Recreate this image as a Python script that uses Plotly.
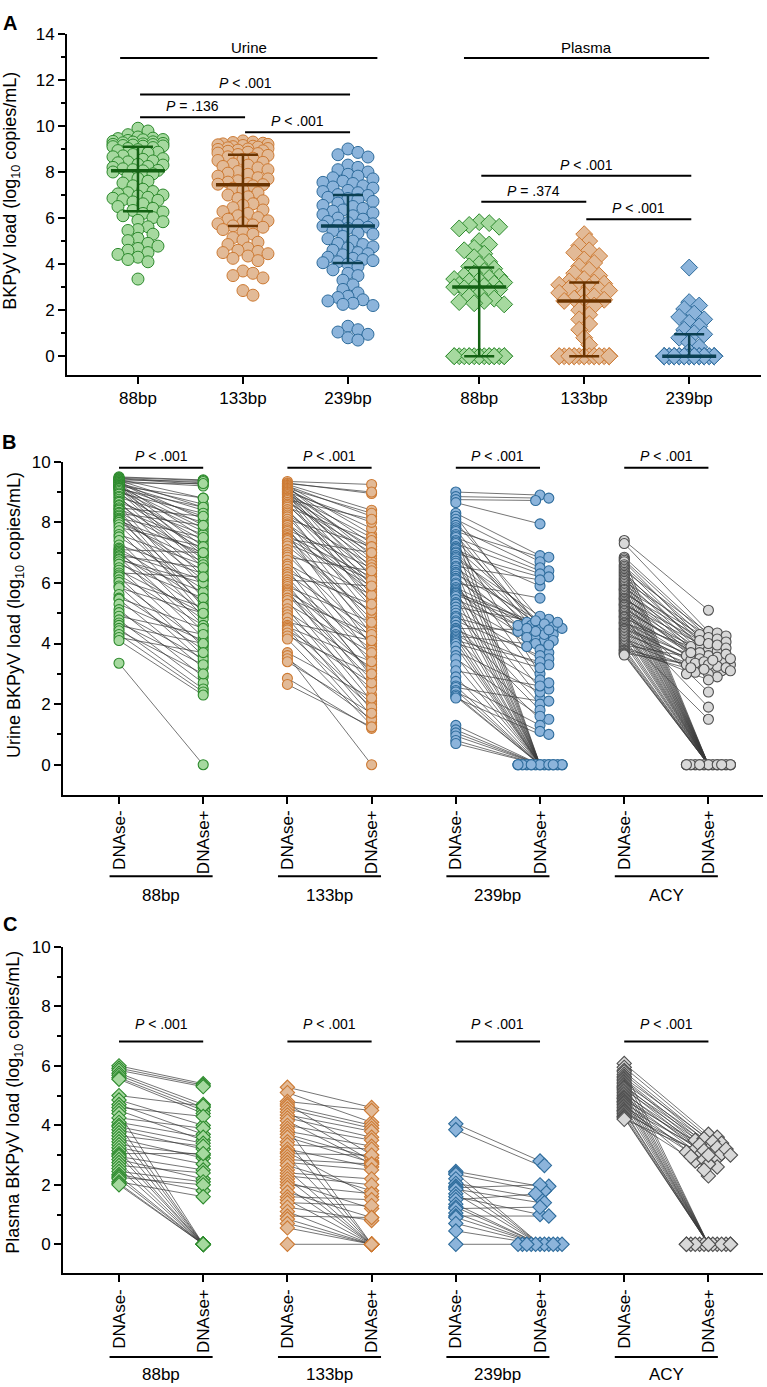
import plotly.graph_objects as go

W, H = 767, 1387

# ---------------- DATA (log10 copies/mL) ----------------
# Panel A urine groups
urine_88 = [9.9, 9.78, 9.62, 9.52, 9.47, 9.45, 9.41, 9.4, 9.37, 9.33, 9.31, 9.3, 9.27, 9.24, 9.22, 9.2, 9.19, 9.17, 9.15, 9.13, 9.12, 9.1,
            9.06, 9.02, 8.97, 8.93, 8.86, 8.82, 8.76, 8.7, 8.66, 8.58, 8.55, 8.48, 8.44, 8.4, 8.33, 8.3, 8.24, 8.2, 8.14, 8.1, 8.07, 8.05,
            8.0, 7.92, 7.83, 7.72, 7.6, 7.52, 7.4, 7.25, 7.15, 7.1, 7.05, 7.0, 6.96, 6.9, 6.86, 6.8, 6.77, 6.7, 6.62, 6.5, 6.42, 6.33,
            6.26, 6.2, 6.1, 6.02, 5.9, 5.84, 5.62, 5.5, 5.46, 5.3, 5.12, 5.02, 4.9, 4.78, 4.68, 4.6, 4.5, 4.42, 4.3, 4.2, 4.1, 3.35]

# Urine, paired DNAse- / DNAse+ (Panel B)
urine_88_neg = [9.5, 9.48, 9.46, 9.44, 9.42, 9.4, 9.38, 9.36, 9.34, 9.32, 9.3, 9.28, 9.26, 9.24, 9.22, 9.2, 9.19, 9.17, 9.15, 9.13, 9.12, 9.1,
                9.06, 9.02, 8.97, 8.93, 8.86, 8.82, 8.76, 8.7, 8.66, 8.58, 8.55, 8.48, 8.44, 8.4, 8.33, 8.3, 8.24, 8.2, 8.14, 8.1, 8.07, 8.05,
                8.0, 7.92, 7.83, 7.72, 7.6, 7.52, 7.4, 7.25, 7.15, 7.1, 7.05, 7.0, 6.96, 6.9, 6.86, 6.8, 6.77, 6.7, 6.62, 6.5, 6.42, 6.33,
                6.26, 6.2, 6.1, 6.02, 5.9, 5.84, 5.62, 5.5, 5.46, 5.3, 5.12, 5.02, 4.9, 4.78, 4.68, 4.6, 4.5, 4.42, 4.3, 4.2, 4.1, 3.35]
urine_88_pos = [9.4, 9.38, 9.3, 9.25, 8.8, 9.35, 8.5, 9.2, 8.1, 7.9, 9.28, 8.6, 7.5, 8.4, 7.2, 8.8, 6.9, 7.8, 8.2, 7.0, 6.6, 8.5,
                7.7, 6.5, 8.3, 7.4, 6.2, 8.0, 7.1, 5.9, 7.6, 6.8, 5.5, 8.2, 7.3, 5.2, 6.9, 7.9, 6.1, 5.0, 7.5, 6.4, 5.6, 7.0,
                6.7, 5.3, 7.2, 4.9, 6.6, 5.8, 4.6, 6.3, 5.4, 7.0, 4.4, 6.1, 5.1, 6.5, 4.2, 5.7, 6.0, 4.8, 5.5, 3.9, 5.0, 6.2,
                4.6, 3.6, 5.2, 4.0, 3.4, 5.0, 3.8, 4.5, 3.2, 4.1, 2.9, 3.5, 4.3, 2.7, 3.3, 4.0, 2.5, 3.0, 2.4, 3.7, 2.3, 0.0]

urine_133_neg = [9.35, 9.3, 9.28, 9.25, 9.22, 9.2, 9.18, 9.15, 9.12, 9.1, 9.08, 9.05, 9.02, 9.0, 8.98, 8.95, 8.92, 8.9, 8.86, 8.82, 8.8, 8.76,
                 8.72, 8.66, 8.6, 8.55, 8.5, 8.42, 8.35, 8.3, 8.24, 8.18, 8.1, 8.02, 7.95, 7.9, 7.82, 7.75, 7.7, 7.62, 7.56, 7.5, 7.47, 7.45,
                 7.4, 7.3, 7.22, 7.1, 7.0, 6.92, 6.85, 6.75, 6.62, 6.55, 6.45, 6.35, 6.28, 6.2, 6.1, 6.02, 5.95, 5.88, 5.8, 5.75, 5.7, 5.66,
                 5.6, 5.5, 5.42, 5.3, 5.15, 5.05, 4.95, 4.85, 4.7, 4.6, 4.55, 4.5, 4.45, 4.35, 4.25, 4.15, 3.7, 3.6, 3.5, 3.4, 2.85, 2.65]
urine_133_pos = [9.25, 8.95, 9.0, 8.4, 7.6, 8.2, 6.9, 7.3, 8.3, 6.5, 7.8, 6.2, 7.1, 8.0, 5.9, 6.8, 7.5, 5.6, 6.4, 7.2, 5.3, 8.1,
                 6.7, 7.0, 5.8, 6.3, 7.4, 5.5, 6.1, 4.9, 6.6, 5.2, 7.2, 4.6, 6.0, 5.7, 4.3, 6.5, 5.4, 3.9, 6.2, 4.8, 5.9, 7.0,
                 4.5, 6.1, 5.0, 3.6, 5.6, 4.2, 6.4, 3.3, 5.1, 4.0, 2.9, 5.3, 4.4, 3.0, 5.9, 3.8, 2.6, 4.7, 3.5, 2.3, 4.1, 3.1,
                 2.8, 4.3, 2.1, 3.7, 1.8, 3.2, 2.5, 1.6, 4.1, 2.0, 3.4, 1.4, 2.7, 1.9, 3.0, 1.3, 2.2, 0.0, 1.5, 1.7, 1.2, 1.25]

urine_239_neg = [9.0, 8.85, 8.75, 8.65, 8.3, 8.2, 8.1, 8.0, 7.9, 7.82, 7.75, 7.7, 7.6, 7.55, 7.5, 7.4, 7.35, 7.3, 7.2, 7.15, 7.1, 7.02,
                 6.98, 6.9, 6.85, 6.8, 6.72, 6.65, 6.55, 6.5, 6.42, 6.35, 6.3, 6.22, 6.15, 6.1, 6.0, 5.95, 5.85, 5.8, 5.75, 5.7, 5.67, 5.65,
                 5.6, 5.55, 5.45, 5.35, 5.3, 5.2, 5.1, 5.0, 4.9, 4.85, 4.75, 4.7, 4.6, 4.5, 4.45, 4.4, 4.3, 4.25, 4.2, 4.15, 4.1, 4.06,
                 4.0, 3.9, 3.75, 3.6, 3.5, 3.3, 3.1, 2.9, 2.75, 2.6, 2.55, 2.45, 2.4, 2.3, 2.25, 2.2, 1.3, 1.15, 1.05, 0.95, 0.8, 0.7]
urine_239_pos = [8.9, 8.8, 8.72, 7.95, 6.9, 4.5, 6.7, 4.8, 0.0, 6.5, 4.4, 6.85, 4.2, 0.0, 6.4, 4.6, 3.0, 6.3, 0.0, 4.7, 5.9, 4.1,
                 6.2, 4.5, 0.0, 4.9, 4.3, 2.8, 6.1, 4.6, 0.0, 4.0, 4.75, 3.7, 0.0, 4.4, 5.5, 2.5, 4.5, 0.0, 4.2, 3.9, 4.65, 2.2,
                 4.55, 0.0, 4.3, 3.8, 0.0, 4.7, 3.5, 2.0, 0.0, 4.1, 3.6, 0.0, 1.8, 4.45, 3.3, 0.0, 2.7, 3.95, 0.0, 1.5, 3.4, 0.0,
                 3.2, 0.0, 2.4, 0.0, 1.6, 0.0, 2.6, 0.0, 1.3, 0.0, 2.1, 0.0, 1.1, 0.0, 0.0, 1.0, 0.0, 0.0, 0.0, 0.0, 0.0, 0.0]

urine_acy_neg = [7.4, 7.3,
                 6.85, 6.8, 6.75, 6.7, 6.6, 6.55, 6.5, 6.45, 6.4, 6.35,
                 6.3, 6.25, 6.2, 6.15, 6.1, 6.05, 6.0, 5.95, 5.9, 5.85,
                 5.8, 5.78, 5.75, 5.7, 5.65, 5.6, 5.55, 5.5, 5.48, 5.45,
                 5.4, 5.35, 5.3, 5.28, 5.25, 5.2, 5.15, 5.1, 5.08, 5.05,
                 5.0, 4.95, 4.9, 4.88, 4.85, 4.8, 4.75, 4.7, 4.68, 4.65,
                 4.6, 4.55, 4.5, 4.48, 4.45, 4.4, 4.35, 4.3, 4.25, 4.2,
                 4.15, 4.1, 4.05, 4.0, 3.95, 3.9, 3.85, 3.8, 3.78, 3.75,
                 3.7, 3.68, 3.65, 3.62]
urine_acy_pos = [5.1, 4.4,
                 4.3, 0.0, 4.2, 3.9, 0.0, 4.1, 3.8, 0.0, 4.35, 3.6,
                 0.0, 4.0, 3.7, 0.0, 3.5, 4.25, 0.0, 3.9, 3.4, 0.0,
                 4.15, 3.3, 0.0, 3.75, 4.05, 0.0, 3.2, 3.6, 0.0, 3.95,
                 3.1, 0.0, 3.55, 3.85, 0.0, 3.3, 3.45, 0.0, 2.4, 3.65,
                 0.0, 3.35, 3.15, 0.0, 3.5, 1.9, 0.0, 3.25, 3.7, 0.0,
                 3.05, 0.0, 3.4, 3.2, 0.0, 2.9, 0.0, 3.3, 1.5, 0.0,
                 3.1, 0.0, 3.0, 0.0, 3.45, 2.8, 0.0, 3.15, 0.0, 3.0,
                 0.0, 3.2, 0.0, 0.0]

# Plasma, Panel A (all samples)
plasma_88 = [5.82, 5.78, 5.7, 5.62, 5.55, 5.0, 4.85, 4.7, 4.6, 4.45, 4.3, 4.1, 4.0, 3.9, 3.8, 3.7, 3.6, 3.5, 3.45, 3.4,
             3.35, 3.3, 3.25, 3.2, 3.15, 3.1, 3.05, 3.0, 3.0, 2.95, 2.9, 2.8, 2.7, 2.6, 2.5, 2.4, 2.35, 2.3, 2.25,
             0.0, 0.0, 0.0, 0.0, 0.0, 0.0, 0.0, 0.0, 0.0, 0.0, 0.0, 0.0, 0.0, 0.0, 0.0, 0.0, 0.0]
plasma_133 = [5.3, 5.0, 4.8, 4.6, 4.5, 4.35, 4.2, 4.05, 3.9, 3.75, 3.6, 3.5, 3.35, 3.25, 3.2, 3.15, 3.1, 3.05, 3.0,
              2.95, 2.9, 2.85, 2.75, 2.7, 2.6, 2.5, 2.45, 2.4, 2.35, 2.2, 2.0, 1.8, 1.6, 1.4, 1.15, 0.8, 0.5,
              0.0, 0.0, 0.0, 0.0, 0.0, 0.0, 0.0, 0.0, 0.0, 0.0, 0.0, 0.0, 0.0, 0.0, 0.0, 0.0, 0.0, 0.0, 0.0]
plasma_239 = [3.85, 2.35, 2.2, 2.05, 1.85, 1.7, 1.6, 1.45, 1.3, 1.15, 1.0, 0.95, 0.8, 0.6, 0.4, 0.2,
              0.0, 0.0, 0.0, 0.0, 0.0, 0.0, 0.0, 0.0, 0.0, 0.0, 0.0, 0.0, 0.0, 0.0, 0.0, 0.0, 0.0, 0.0, 0.0,
              0.0, 0.0, 0.0, 0.0, 0.0, 0.0, 0.0, 0.0, 0.0, 0.0, 0.0, 0.0, 0.0, 0.0, 0.0, 0.0, 0.0, 0.0, 0.0]

# Plasma, paired DNAse-/DNAse+ (Panel C)
plasma_88_neg = [6.0, 5.92, 5.85, 5.75, 5.68, 5.6, 5.55, 5.0, 4.85, 4.7, 4.6, 4.5, 4.4, 4.25, 4.1, 4.0, 3.95, 3.85, 3.75, 3.65,
                 3.55, 3.45, 3.35, 3.25, 3.15, 3.05, 3.0, 2.95, 2.85, 2.75, 2.65, 2.55, 2.45, 2.35, 2.3, 2.25, 2.2, 2.1, 2.05, 2.0]
plasma_88_pos = [5.4, 5.35, 5.3, 4.7, 4.6, 4.5, 4.4, 4.65, 4.0, 3.7, 4.3, 3.5, 0.0, 3.9, 3.6, 0.0, 3.4, 3.2, 0.0, 3.3,
                 2.9, 0.0, 3.0, 2.7, 0.0, 3.05, 0.0, 2.5, 2.2, 0.0, 2.4, 0.0, 2.1, 1.8, 0.0, 2.0, 0.0, 1.6, 0.0, 0.0]
plasma_133_neg = [5.28, 5.1, 4.8, 4.72, 4.65, 4.55, 4.45, 4.35, 4.25, 4.15, 4.0, 3.9, 3.8, 3.7, 3.6, 3.45, 3.35, 3.2, 3.1, 3.05,
                  2.95, 2.85, 2.75, 2.65, 2.5, 2.4, 2.3, 2.2, 2.1, 2.0, 1.9, 1.75, 1.6, 1.5, 1.4, 1.25, 1.1, 0.95, 0.85, 0.7,
                  0.55, 0.0]
plasma_133_pos = [4.6, 4.1, 4.5, 3.0, 4.0, 3.9, 2.8, 3.8, 3.6, 2.7, 3.5, 0.0, 3.3, 2.9, 2.75, 0.0, 3.2, 2.6, 1.6, 3.0,
                  0.0, 2.7, 2.5, 1.8, 0.0, 2.2, 2.0, 0.0, 1.2, 1.7, 0.0, 0.9, 1.5, 0.0, 1.3, 0.8, 0.0, 0.9, 0.0, 0.0,
                  0.0, 0.0]
plasma_239_neg = [4.05, 3.85, 2.45, 2.4, 2.35, 2.2, 2.05, 1.95, 1.9, 1.85, 1.7, 1.6, 1.5, 1.35, 1.25, 1.2, 1.05, 0.95, 0.9, 0.7,
                  0.45, 0.0]
plasma_239_pos = [2.8, 2.65, 1.95, 0.0, 1.8, 0.0, 1.55, 0.0, 2.0, 1.4, 0.0, 1.0, 1.7, 0.0, 0.0, 1.25, 0.0, 0.95, 0.0, 0.0,
                  0.0, 0.0]
plasma_acy_neg = [6.08, 5.95, 5.85, 5.8, 5.72, 5.65, 5.6, 5.55, 5.5, 5.45, 5.4, 5.35, 5.3, 5.28, 5.25, 5.2, 5.15, 5.1, 5.05, 5.0,
                  4.95, 4.92, 4.9, 4.85, 4.8, 4.78, 4.75, 4.7, 4.65, 4.6, 4.55, 4.5, 4.48, 4.45, 4.4, 4.35, 4.3, 4.28, 4.25, 4.2]
plasma_acy_pos = [3.7, 3.6, 0.0, 3.5, 3.4, 0.0, 3.55, 3.3, 3.2, 0.0, 3.45, 3.1, 0.0, 3.35, 3.0, 3.25, 0.0, 2.9, 3.15, 0.0,
                  3.05, 2.8, 0.0, 3.2, 2.6, 0.0, 3.0, 2.3, 0.0, 3.1, 2.85, 0.0, 2.7, 0.0, 2.95, 0.0, 2.5, 0.0, 0.0, 3.0]

# Panel A: categories and median / interquartile range
a_categories = ["88bp", "133bp", "239bp", "88bp", "133bp", "239bp"]
a_medians = [8.05, 7.45, 5.65, 3.0, 2.4, 0.0]
a_q1 = [6.3, 5.65, 4.05, 0.0, 0.0, 0.0]
a_q3 = [9.1, 8.75, 7.0, 3.85, 3.2, 0.95]

# Significance annotations (panel A): bracket level and text
a_brackets = [  # (from category index, to category index, level, text)
    (0, 2, 12.95, "Urine"),
    (0, 2, 11.37, "<i>P</i> &lt; .001"),
    (0, 1, 10.38, "<i>P</i> = .136"),
    (1, 2, 9.73, "<i>P</i> &lt; .001"),
    (3, 5, 12.95, "Plasma"),
    (3, 5, 7.84, "<i>P</i> &lt; .001"),
    (3, 4, 6.71, "<i>P</i> = .374"),
    (4, 5, 5.95, "<i>P</i> &lt; .001"),
]
pair_groups = ["88bp", "133bp", "239bp", "ACY"]
pair_tick_labels = ["DNAse-", "DNAse+"]
b_p_text = ["<i>P</i> &lt; .001"] * 4
c_p_text = ["<i>P</i> &lt; .001"] * 4
b_bracket_level = 9.8
c_bracket_level = 6.82

# ---------------- STYLE / LAYOUT ----------------
FILL = {"88bp": "#a6d99f", "133bp": "#e2ba97", "239bp": "#8cb4db", "ACY": "#d8d8d8"}
EDGE = {"88bp": "#2d8a2d", "133bp": "#cd7a33", "239bp": "#2e6c9c", "ACY": "#4f4f4f"}
MED = {"88bp": "#136113", "133bp": "#6b3400", "239bp": "#0b4052"}
PAIR_LINE = "#3a3a3a"
FONT = "Arial"

a_pos = [1, 2, 3, 4.25, 5.25, 6.25]
a_xdom = [67 / W, 761 / W]
a_xr = [0.324, 6.934]
a_ydom = [1 - 368 / H, 1 - 25 / H]
a_yr = [-0.8, 14]

b_xdom = [63 / W, 763 / W]
bc_xr = [0.335, 8.648]
b_ydom = [1 - 790.7 / H, 1 - 455.7 / H]
b_yr = [-0.985, 10]
c_ydom = [1 - 1272.7 / H, 1 - 944 / H]
c_yr = [-0.98, 10]


def px_per_unit(dom, rng, total):
    return (dom[1] - dom[0]) * total / (rng[1] - rng[0])


A_XPX = px_per_unit(a_xdom, a_xr, W)
A_YPX = px_per_unit(a_ydom, a_yr, H)
B_XPX = px_per_unit(b_xdom, bc_xr, W)
B_YPX = px_per_unit(b_ydom, b_yr, H)
C_YPX = px_per_unit(c_ydom, c_yr, H)


def swarm(vals, ypx, d, step, maxoff):
    """Deterministic beeswarm: horizontal pixel offsets for each value."""
    n = len(vals)
    order = sorted(range(n), key=lambda i: -vals[i])
    cands = [0.0]
    k = 1
    while k * step <= maxoff + 1e-9:
        cands += [k * step, -k * step]
        k += 1
    placed = []
    offs = [0.0] * n
    for i in order:
        y = vals[i] * ypx
        best_c, best_s = 0.0, None
        for c in cands:
            s = 0.0
            for (px, py) in placed:
                if abs(py - y) < d:
                    dist = ((c - px) ** 2 + (y - py) ** 2) ** 0.5
                    if dist < d:
                        s += d - dist
            if best_s is None or s < best_s - 1e-6:
                best_c, best_s = c, s
        offs[i] = best_c
        placed.append((best_c, y))
    return offs


fig = go.Figure()

# ---------------- Panel A ----------------
a_sets = [(urine_88, "circle"), (urine_133_neg, "circle"), (urine_239_neg, "circle"),
          (plasma_88, "diamond"), (plasma_133, "diamond"), (plasma_239, "diamond")]
for i, (vals, sym) in enumerate(a_sets):
    g = a_categories[i]
    offs = swarm(vals, A_YPX, 8.5, 5.0, 27)
    xs = [a_pos[i] + o / A_XPX for o in offs]
    fig.add_trace(go.Scatter(
        x=xs, y=vals, mode="markers", xaxis="x", yaxis="y", cliponaxis=False,
        marker=dict(symbol=sym, size=12 if sym == "circle" else 13, color=FILL[g],
                    line=dict(color=EDGE[g], width=1))))
for i in range(6):
    g = a_categories[i]
    p = a_pos[i]
    half = 27 / A_XPX
    cap = 15 / A_XPX
    fig.add_trace(go.Scatter(
        x=[p, p, None, p - cap, p + cap, None, p - cap, p + cap],
        y=[a_q1[i], a_q3[i], None, a_q1[i], a_q1[i], None, a_q3[i], a_q3[i]],
        mode="lines", xaxis="x", yaxis="y", cliponaxis=False,
        line=dict(color=MED[g], width=2.5)))
    fig.add_trace(go.Scatter(
        x=[p - half, p + half], y=[a_medians[i], a_medians[i]], mode="lines",
        xaxis="x", yaxis="y", cliponaxis=False, line=dict(color=MED[g], width=3.5)))

ann = []
ext = {  # line extents (style): left / right overhang in category units
    (0, 2, "Urine"): (-0.17, 0.28), (3, 5, "Plasma"): (-0.145, 0.19)}
for (i0, i1, lev, txt) in a_brackets:
    l_o, r_o = ext.get((i0, i1, txt), (0.02, 0.02))
    x0, x1 = a_pos[i0] + l_o, a_pos[i1] + r_o
    fig.add_trace(go.Scatter(x=[x0, x1], y=[lev, lev], mode="lines", xaxis="x", yaxis="y",
                             cliponaxis=False, line=dict(color="black", width=2)))
    ann.append(dict(x=(x0 + x1) / 2, y=lev, xref="x", yref="y", text=txt, showarrow=False,
                    yanchor="middle", yshift=11,
                    font=dict(family=FONT, size=15 if txt in ("Urine", "Plasma") else 14, color="black")))

# ---------------- Panels B and C ----------------
def paired_panel(negs, poss, xa, ya, sym, size, ypx, level, ptexts, yshift):
    # connecting lines first
    for k, g in enumerate(pair_groups):
        p0, p1 = 2 * k + 1, 2 * k + 2
        xs, ys = [], []
        for a, b in zip(negs[k], poss[k]):
            xs += [p0, p1, None]
            ys += [a, b, None]
        fig.add_trace(go.Scatter(x=xs, y=ys, mode="lines", xaxis=xa, yaxis=ya, cliponaxis=False,
                                 line=dict(color=PAIR_LINE, width=0.7)))
    for k, g in enumerate(pair_groups):
        p0, p1 = 2 * k + 1, 2 * k + 2
        mk = dict(symbol=sym, size=size, color=FILL[g], line=dict(color=EDGE[g], width=1.1))
        fig.add_trace(go.Scatter(x=[p0] * len(negs[k]), y=negs[k], mode="markers", xaxis=xa, yaxis=ya,
                                 cliponaxis=False, marker=mk))
        if g in ("239bp", "ACY"):
            offs = swarm(poss[k], ypx, 6, 4.4, 25)
        else:
            offs = [0.0] * len(poss[k])
        fig.add_trace(go.Scatter(x=[p1 + o / B_XPX for o in offs], y=poss[k], mode="markers",
                                 xaxis=xa, yaxis=ya, cliponaxis=False, marker=mk))
        fig.add_trace(go.Scatter(x=[p0, p1], y=[level, level], mode="lines", xaxis=xa, yaxis=ya,
                                 cliponaxis=False, line=dict(color="black", width=2)))
        ann.append(dict(x=(p0 + p1) / 2, y=level, xref=xa, yref=ya, text=ptexts[k], showarrow=False,
                        yanchor="middle", yshift=yshift, font=dict(family=FONT, size=14, color="black")))


paired_panel([urine_88_neg, urine_133_neg, urine_239_neg, urine_acy_neg],
             [urine_88_pos, urine_133_pos, urine_239_pos, urine_acy_pos],
             "x2", "y2", "circle", 10, B_YPX, b_bracket_level, b_p_text, 12)
paired_panel([plasma_88_neg, plasma_133_neg, plasma_239_neg, plasma_acy_neg],
             [plasma_88_pos, plasma_133_pos, plasma_239_pos, plasma_acy_pos],
             "x3", "y3", "diamond", 11, C_YPX, c_bracket_level, c_p_text, 17)

# group lines and labels under the paired panels
shapes = []
for xa, line_px, lab_px in (("x2", 873, 892), ("x3", 1356.7, 1374)):
    for k, g in enumerate(pair_groups):
        c = 2 * k + 1.5
        shapes.append(dict(type="line", xref=xa, yref="paper", x0=c - 0.612, x1=c + 0.612,
                           y0=1 - line_px / H, y1=1 - line_px / H, line=dict(color="black", width=2)))
        ann.append(dict(x=c, y=1 - lab_px / H, xref=xa, yref="paper", text=g, showarrow=False,
                        yanchor="middle", font=dict(family=FONT, size=17, color="black")))

# axis titles and panel letters
titles = [("BKPyV load (log<sub>10</sub> copies/mL)", 12, 183),
          ("Urine BKPyV load (log<sub>10</sub> copies/mL)", 15, 610),
          ("Plasma BKPyV load (log<sub>10</sub> copies/mL)", 15, 1101)]
for t, xp, yp in titles:
    ann.append(dict(x=xp / W, y=1 - yp / H, xref="paper", yref="paper", text=t, textangle=-90,
                    showarrow=False, xanchor="center", yanchor="middle",
                    font=dict(family=FONT, size=18, color="black")))
for letter, xp, yp in (("A", 10, 14), ("B", 9, 436), ("C", 10, 921)):
    ann.append(dict(x=xp / W, y=1 - yp / H, xref="paper", yref="paper", text="<b>%s</b>" % letter,
                    showarrow=False, xanchor="center", yanchor="middle",
                    font=dict(family=FONT, size=20, color="black")))

common = dict(showline=True, linewidth=2, linecolor="black", ticks="outside", ticklen=7, tickwidth=2,
              tickcolor="black", showgrid=False, zeroline=False,
              tickfont=dict(family=FONT, size=17, color="black"))
yminor = dict(ticks="outside", ticklen=4, tickwidth=2, tickcolor="black", tickmode="linear", tick0=0, dtick=1)

fig.update_layout(
    width=W, height=H, margin=dict(l=0, r=0, t=0, b=0),
    paper_bgcolor="white", plot_bgcolor="white", showlegend=False,
    font=dict(family=FONT, color="black"),
    xaxis=dict(domain=a_xdom, range=a_xr, anchor="y", tickmode="array", tickvals=a_pos,
               ticktext=a_categories, **common),
    yaxis=dict(domain=a_ydom, range=a_yr, anchor="x", tickmode="linear", tick0=0, dtick=2,
               minor=yminor, **common),
    xaxis2=dict(domain=b_xdom, range=bc_xr, anchor="y2", tickmode="array", tickvals=list(range(1, 9)),
                ticktext=pair_tick_labels * 4, tickangle=-90, **common),
    yaxis2=dict(domain=b_ydom, range=b_yr, anchor="x2", tickmode="linear", tick0=0, dtick=2,
                minor=yminor, **common),
    xaxis3=dict(domain=b_xdom, range=bc_xr, anchor="y3", tickmode="array", tickvals=list(range(1, 9)),
                ticktext=pair_tick_labels * 4, tickangle=-90, **common),
    yaxis3=dict(domain=c_ydom, range=c_yr, anchor="x3", tickmode="linear", tick0=0, dtick=2,
                minor=yminor, **common),
    annotations=ann, shapes=shapes,
)

fig.write_html("out.html", config={"displayModeBar": False},
               post_script="document.body.style.margin='0px';document.body.style.overflow='hidden';")
